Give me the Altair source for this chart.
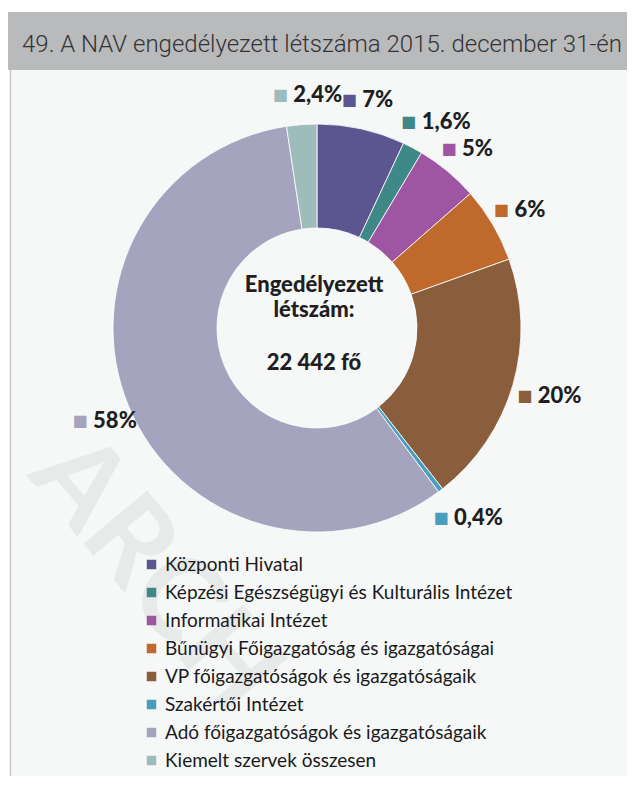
import altair as alt
import pandas as pd

categories = [
    "Központi Hivatal",
    "Képzési Egészségügyi és Kulturális Intézet",
    "Informatikai Intézet",
    "Bűnügyi Főigazgatóság és igazgatóságai",
    "VP főigazgatóságok és igazgatóságaik",
    "Szakértői Intézet",
    "Adó főigazgatóságok és igazgatóságaik",
    "Kiemelt szervek összesen",
]
shares = [7, 1.6, 5, 6, 20, 0.4, 58, 2.4]
share_labels = ["7%", "1,6%", "5%", "6%", "20%", "0,4%", "58%", "2,4%"]
colors = ["#5b5590", "#3e8887", "#9e56a3", "#c0692c", "#8a5d3d", "#4a9dbd", "#a6a3bf", "#9fbcbd"]
title_text = "49. A NAV engedélyezett létszáma 2015. december 31-én"
center_line1 = "Engedélyezett"
center_line2 = "létszám:"
center_line3 = "22 442 fő"
watermark_text = "ARCH"

df = pd.DataFrame({"cat": categories, "share": shares, "label": share_labels,
                   "idx": list(range(len(categories)))})
one = pd.DataFrame({"k": [0]})

W, H = 619, 768
CX, CY = 309, 320

color_scale = alt.Scale(domain=categories, range=colors)

band = alt.Chart(one).mark_rect(color="#b9babc").encode(
    x=alt.value(0), x2=alt.value(W), y=alt.value(4), y2=alt.value(62))
panel = alt.Chart(one).mark_rect(color="#f6f8f8").encode(
    x=alt.value(2), x2=alt.value(W), y=alt.value(62), y2=alt.value(H))
border = alt.Chart(one).mark_rule(color="#c4c6c8", strokeWidth=1.5).encode(
    x=alt.value(2.5), y=alt.value(62), y2=alt.value(H))
title = alt.Chart(one).mark_text(
    text=title_text, font="Roboto", fontWeight=300, fontSize=24, align="left",
    baseline="middle", color="#333333").encode(x=alt.value(14), y=alt.value(37))
watermark = alt.Chart(one).mark_text(
    text=watermark_text, font="Lato", fontWeight="bold", fontSize=115, angle=50,
    align="left", baseline="middle", color="#e8eaea").encode(
    x=alt.value(45), y=alt.value(445))

base = alt.Chart(df).encode(
    theta=alt.Theta("share:Q", stack=True),
    order=alt.Order("idx:Q"),
)

donut = base.mark_arc(innerRadius=100, outerRadius=204, stroke="white", strokeWidth=0.8).encode(
    color=alt.Color("cat:N", scale=color_scale, legend=alt.Legend(
        orient="none", legendX=134, legendY=547, title=None, symbolType="square",
        symbolSize=90, symbolStrokeWidth=0, labelFontSize=19, labelFont="Lato",
        labelColor="#1a1a1a", rowPadding=8, labelOffset=4, labelLimit=0)),
    x=alt.value(CX), y=alt.value(CY),
)

markers = base.mark_text(text="■", radius=236, fontSize=16, dx=-19, dy=2,
                         font="DejaVu Sans").encode(
    color=alt.Color("cat:N", scale=color_scale, legend=None),
    x=alt.value(CX), y=alt.value(CY),
)
labels = base.mark_text(radius=236, dx=-6, dy=2, align="left", font="Lato", fontWeight=900,
                        fontSize=22, color="#1f1f1f").encode(
    text="label:N", x=alt.value(CX), y=alt.value(CY),
)

center_style = dict(font="Lato", fontWeight=900, fontSize=22, color="#1f1f1f",
                    baseline="middle", align="center")
c1 = alt.Chart(one).mark_text(text=center_line1, **center_style).encode(
    x=alt.value(CX - 3), y=alt.value(277))
c2 = alt.Chart(one).mark_text(text=center_line2, **center_style).encode(
    x=alt.value(CX - 3), y=alt.value(302))
c3 = alt.Chart(one).mark_text(text=center_line3, **center_style).encode(
    x=alt.value(CX - 3), y=alt.value(355))

chart = alt.layer(band, panel, border, title, watermark, donut, markers, labels,
                  c1, c2, c3).properties(
    width=W, height=H, padding=0, autosize=alt.AutoSizeParams(type="none"),
    background="#ffffff",
).configure_view(stroke=None)

chart.save("out.html", embed_options={"renderer": "svg", "actions": False})
